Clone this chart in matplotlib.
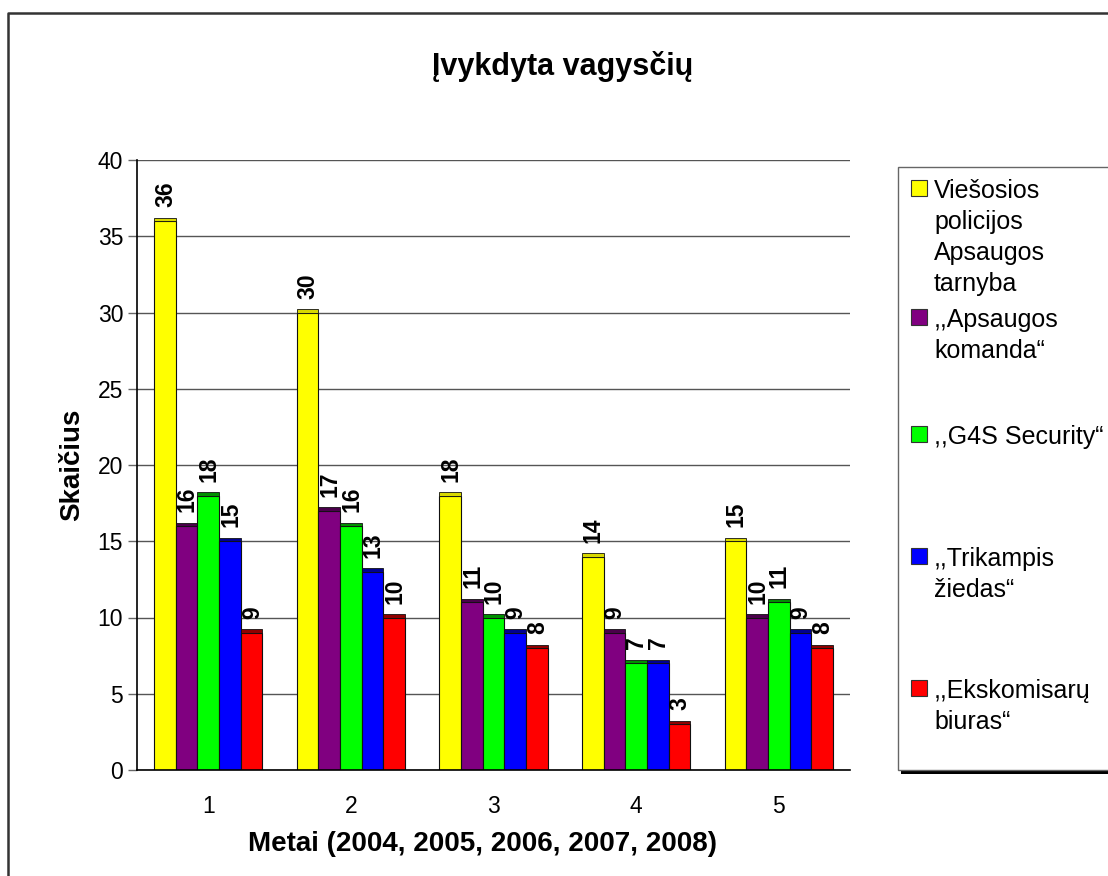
import matplotlib.pyplot as plt
from matplotlib.patches import Rectangle
from matplotlib.lines import Line2D
import numpy as np

plt.rcParams['font.family'] = ['Liberation Sans', 'DejaVu Sans']

# duomenys
metai = ['1', '2', '3', '4', '5']
serijos = ['Viešosios\npolicijos\nApsaugos\ntarnyba',
           ',,Apsaugos\nkomanda“',
           ',,G4S Security“',
           ',,Trikampis\nžiedas“',
           ',,Ekskomisarų\nbiuras“']
vpt = [36, 30, 18, 14, 15]
apsaugos_komanda = [16, 17, 11, 9, 10]
g4s = [18, 16, 10, 7, 11]
trikampis = [15, 13, 9, 7, 9]
ekskomisarai = [9, 10, 8, 3, 8]
reiksmes = [vpt, apsaugos_komanda, g4s, trikampis, ekskomisarai]

spalvos = ['#ffff00', '#800080', '#00ff00', '#0000ff', '#ff0000']
virsus = ['#d8d800', '#4a004a', '#009000', '#000090', '#900000']

W, H = 1108, 876
fig = plt.figure(figsize=(W / 100, H / 100), dpi=100)

def fx(px):
    return px / W

def fy(py):
    return 1 - py / H

# remelis
fig.add_artist(Line2D([fx(8), fx(8), 1], [0, fy(13), fy(13)],
                      transform=fig.transFigure, color='#333333', lw=1.8))

ax = fig.add_axes([fx(137), fy(770), fx(850) - fx(137), fy(160) - fy(770)])
x = np.arange(1, len(metai) + 1)
plotis = 0.152
for i, (vals, c, cv) in enumerate(zip(reiksmes, spalvos, virsus)):
    pos = x + (i - 2) * plotis
    ax.bar(pos, vals, plotis, color=c, edgecolor='#111111', lw=0.8, zorder=2)
    ax.bar(pos, [0.22] * len(vals), plotis, bottom=vals, color=cv,
           edgecolor='#111111', lw=0.6, zorder=2)
    for p, v in zip(pos, vals):
        ax.annotate(str(v), (p, v + 0.22), xytext=(0.5, 7.5), textcoords='offset points',
                    rotation=90, ha='center', va='bottom', fontsize=16.5,
                    fontweight='bold', zorder=3)

ax.set_xlim(0.5, 5.5)
ax.set_ylim(0, 40)
ax.set_xticks(x)
ax.set_xticklabels(metai)
ax.set_yticks(range(0, 41, 5))
ax.yaxis.grid(True, color='#555555', lw=1)
ax.set_axisbelow(True)
for s in ['top', 'right']:
    ax.spines[s].set_visible(False)
for s in ['left', 'bottom']:
    ax.spines[s].set_color('black')
    ax.spines[s].set_linewidth(1.2)
ax.tick_params(axis='y', length=6.5, width=1, color='#666666', labelsize=16.5, pad=3.5)
ax.tick_params(axis='x', length=0, labelsize=16.5, pad=18)

ax.set_xlabel('Metai (2004, 2005, 2006, 2007, 2008)', fontsize=20,
              fontweight='bold', va='center')
ax.xaxis.set_label_coords((483 - 137) / 713, -(844 - 770) / 610)
ax.set_ylabel('Skaičius', fontsize=20, fontweight='bold', va='center')
ax.yaxis.set_label_coords((72 - 137) / 713, 0.5)

fig.text(fx(563), fy(66), 'Įvykdyta vagysčių', fontsize=22, fontweight='bold',
         ha='center', va='center')

# legenda
fig.add_artist(Rectangle((fx(901), fy(774)), 1, fy(170) - fy(774),
                         transform=fig.transFigure, facecolor='black', edgecolor='none'))
fig.add_artist(Rectangle((fx(898), fy(770)), 1, fy(167) - fy(770),
                         transform=fig.transFigure, facecolor='white',
                         edgecolor='#666666', lw=1))
virsunes = [180, 309, 426, 548, 680]
for lbl, c, y in zip(serijos, spalvos, virsunes):
    fig.add_artist(Rectangle((fx(911), fy(y + 16)), fx(16), fy(0) - fy(16),
                             transform=fig.transFigure, facecolor=c,
                             edgecolor='#333333', lw=0.8))
    fig.text(fx(934), fy(y - 1), lbl, fontsize=18, va='top', ha='left',
             linespacing=1.36)

fig.savefig('out.png', dpi=100)
